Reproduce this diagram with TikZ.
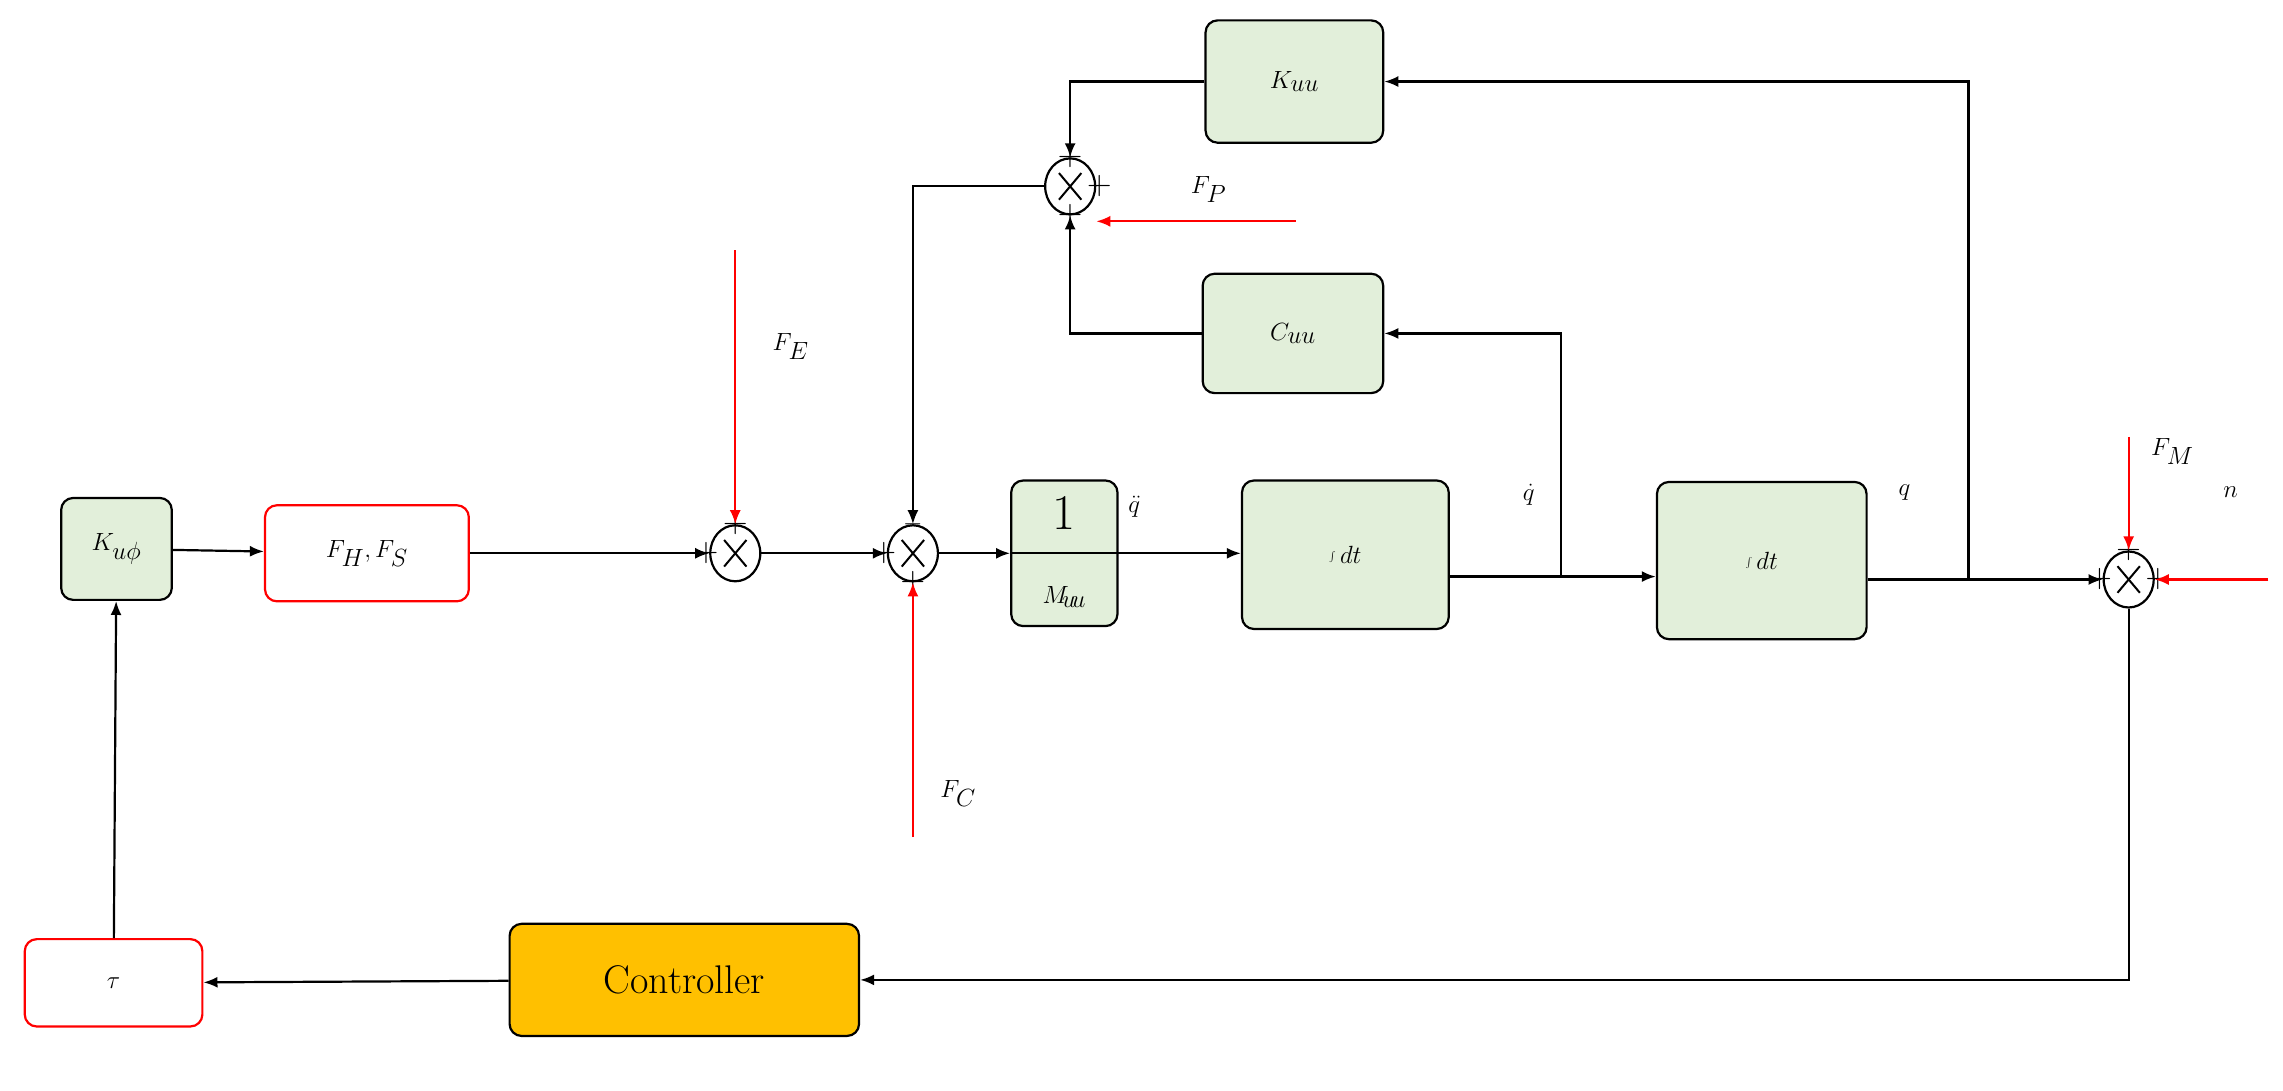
\documentclass[tikz,border=0pt]{standalone}
\usetikzlibrary{arrows.meta,shapes.geometric,calc}
\begin{document}
\begin{tikzpicture}[x=1.456pt,y=-1.456pt,
 blk/.style={draw=black,line width=2.2pt,fill=gfill,rounded corners=12pt,inner sep=0pt},
 rblk/.style={draw=red,line width=2.2pt,fill=white,rounded corners=12pt,inner sep=0pt},
 sum/.style={draw,line width=2.2pt,ellipse,minimum width=50pt,minimum height=56pt,inner sep=0pt},
 ln/.style={line width=2.2pt,-{Latex[length=14pt,width=11pt]}},
 rl/.style={red,line width=2.2pt,-{Latex[length=14pt,width=11pt]}},
 lb/.style={font=\fontsize{46}{50}\selectfont\itshape},
 sg/.style={font=\fontsize{34}{34}\selectfont,inner sep=0pt}]
\definecolor{gfill}{HTML}{E2EFDA}
\useasboundingbox (0,0) rectangle (1568,749);
% blocks
\node[blk,minimum width=76*1.456pt,minimum height=70*1.456pt] (kuf) at (80,377) {\fontsize{52}{52}\selectfont $K_{u\phi}$};
\node[rblk,minimum width=140*1.456pt,minimum height=66*1.456pt] (fhs) at (252,380) {\fontsize{50}{50}\selectfont $F_H,F_S$};
\node[blk,minimum width=73*1.456pt,minimum height=100*1.456pt] (m) at (731,380) {};
\draw[line width=2.2pt] (m.west) -- (m.east);
\node[font=\fontsize{50}{50}\selectfont] at (731,352) {1};
\node[font=\fontsize{46}{46}\selectfont] at (731,410) {$M_{\!u\!u}$};
\node[blk,minimum width=142*1.456pt,minimum height=102*1.456pt] (i1) at (924,381) {\fontsize{56}{56}\selectfont $\int dt$};
\node[blk,minimum width=144*1.456pt,minimum height=108*1.456pt] (i2) at (1210,385) {\fontsize{56}{56}\selectfont $\int dt$};
\node[blk,minimum width=122*1.456pt,minimum height=84*1.456pt] (ku) at (889,56) {\fontsize{40}{40}\selectfont $K_{uu}$};
\node[blk,minimum width=124*1.456pt,minimum height=82*1.456pt] (cu) at (888,229) {\fontsize{40}{40}\selectfont $C_{uu}$};
\node[rblk,minimum width=122*1.456pt,minimum height=60*1.456pt] (tau) at (78,675) {\fontsize{56}{56}\selectfont $\tau$};
\node[draw,line width=2.2pt,fill={rgb,255:red,255;green,192;blue,0},rounded corners=12pt,minimum width=240*1.456pt,minimum height=77*1.456pt] (ctl) at (470,673) {\fontsize{40}{40}\selectfont Controller};
% sums
\node[sum] (s1) at (505,380) {};
\node[sum] (s2) at (627,380) {};
\node[sum] (s3) at (1462,398) {};
\node[sum] (st) at (735,128) {};
\foreach \n in {s1,s2,s3,st}{
 \draw[line width=2pt] ($(\n.north west)+(5,5)$) -- ($(\n.south east)+(-5,-5)$);
 \draw[line width=2pt] ($(\n.north east)+(-5,5)$) -- ($(\n.south west)+(5,-5)$);
}
\node[sg] at ($(s1)+(0,-20)$) {+}; \node[sg] at ($(s1)+(-20,0)$) {+};
\node[sg] at ($(s2)+(0,-20)$) {$-$}; \node[sg] at ($(s2)+(-20,0)$) {+}; \node[sg] at ($(s2)+(0,20)$) {+};
\node[sg] at ($(s3)+(0,-20)$) {+}; \node[sg] at ($(s3)+(-20,0)$) {+}; \node[sg] at ($(s3)+(20,0)$) {+};
\node[sg] at ($(st)+(0,-20)$) {+}; \node[sg] at ($(st)+(20,0)$) {+}; \node[sg] at ($(st)+(0,20)$) {+};
% main connectors
\draw[ln] (kuf) -- (fhs);
\draw[ln] (fhs.east |- s1) -- (s1);
\draw[ln] (s1) -- (s2);
\draw[ln] (s2) -- (m);
\draw[ln] (m.east) -- (i1.west |- m.east);
\node[lb] at (779,348) {$\ddot q$};
\coordinate (j1) at (1072,396);
\draw[ln] (i1.east |- j1) -- (i2.west |- j1);
\draw[ln] (j1) |- (cu.east);
\node[lb] at (1050,340) {$\dot q$};
\coordinate (j2) at (1352,398);
\draw[ln] (i2.east |- j2) -- (s3.west);
\draw[ln] (j2) |- (ku.east);
\node[lb] at (1308,338) {$q$};
\draw[ln] (ku.west) -| (st.north);
\draw[ln] (cu.west) -| (st.south);
\draw[ln] (st.west) -| (s2.north);
\draw[ln] (s3.south) |- (ctl.east);
\draw[ln] (ctl) -- (tau);
\draw[ln] (tau) -- (kuf);
% red inputs
\coordinate (fe) at (505,172); \draw[rl] (fe) -- (s1.north);
\node[lb] at (543,238) {$F_E$};
\coordinate (fc) at (627,575); \draw[rl] (fc) -- (s2.south);
\node[lb] at (658,545) {$F_C$};
\coordinate (fp) at (890,152); \draw[rl] (fp) -- (st.east |- fp);
\node[lb] at (830,130) {$F_P$};
\coordinate (fm) at (1462,300); \draw[rl] (fm) -- (s3.north);
\node[lb] at (1492,310) {$F_M$};
\coordinate (nn) at (1558,398); \draw[rl] (nn) -- (s3.east);
\node[lb] at (1532,338) {$n$};
\end{tikzpicture}
\end{document}
